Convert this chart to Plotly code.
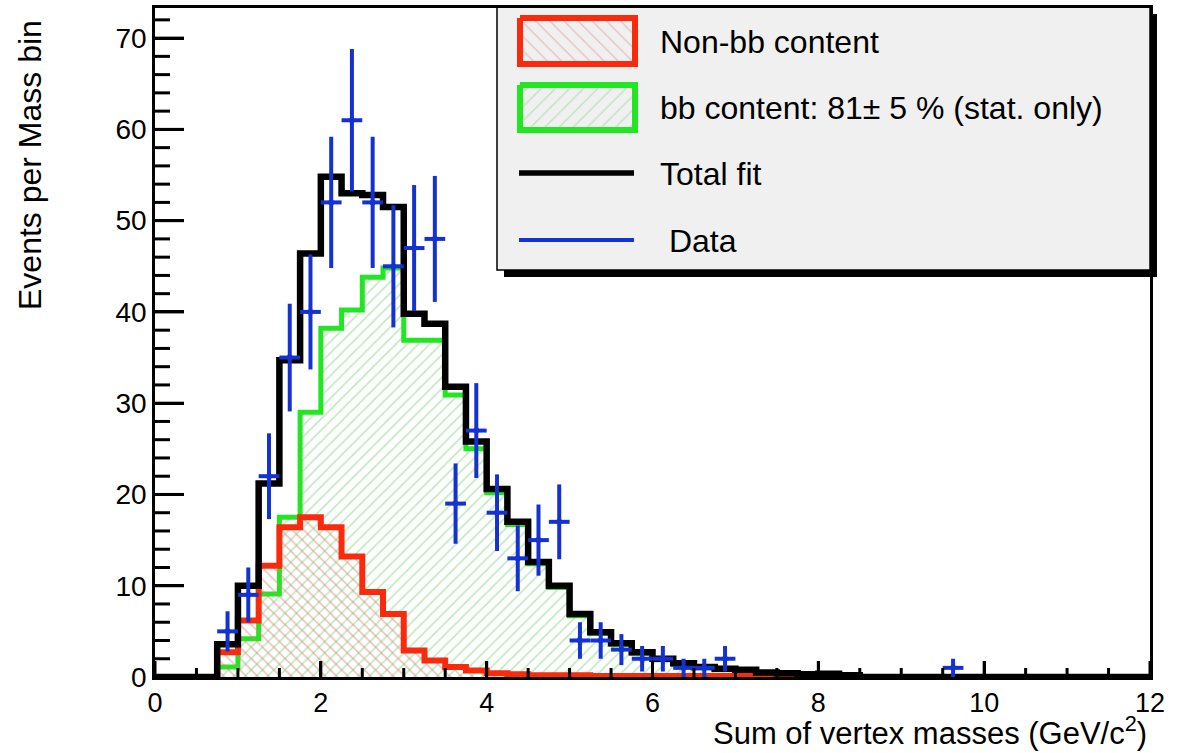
import numpy as np
import plotly.graph_objects as go

# ---------------- data ----------------
X_MIN, X_MAX = 0.0, 12.0
N_BINS = 48  # bin width 0.25 GeV/c^2

# Non-bb content (red), per bin from 0 to 12
non_bb = [0, 0, 0, 2.7, 6.2, 12.2, 16.4, 17.5, 16.4, 13.2, 9.3, 6.9,
          2.9, 1.8, 1.1, 0.7, 0.4, 0.3, 0.2, 0.2, 0.2, 0.1, 0.1, 0.1,
          0.1, 0.1, 0.1, 0.1, 0.1, 0, 0, 0, 0, 0, 0, 0,
          0, 0, 0, 0, 0, 0, 0, 0, 0, 0, 0, 0]

# bb content (green)
bb = [0, 0, 0, 1.1, 4.2, 9.1, 17.5, 29.0, 38.2, 40.2, 43.8, 44.8,
      36.9, 36.9, 30.9, 25.0, 20.2, 16.7, 12.4, 9.8, 6.7, 4.8, 3.6, 2.6,
      1.9, 1.4, 1.0, 0.8, 0.7, 0.4, 0.3, 0.25, 0.25, 0.15, 0, 0,
      0, 0, 0, 0, 0, 0, 0, 0, 0, 0, 0, 0]

# Total fit (black)
total_fit = [0, 0, 0, 3.6, 10.0, 21.2, 34.7, 46.4, 54.8, 53.0, 52.8, 51.5,
             39.8, 38.7, 31.8, 25.8, 20.6, 17.0, 12.6, 10.0, 6.9, 4.9, 3.7, 2.7,
             2.0, 1.5, 1.1, 0.9, 0.8, 0.5, 0.4, 0.3, 0.35, 0.2, 0, 0,
             0, 0, 0, 0, 0, 0, 0, 0, 0, 0, 0, 0]

# Data points (blue)
data_x = [0.875, 1.125, 1.375, 1.625, 1.875, 2.125, 2.375, 2.625, 2.875,
          3.125, 3.375, 3.625, 3.875, 4.125, 4.375, 4.625, 4.875, 5.125,
          5.375, 5.625, 5.875, 6.125, 6.375, 6.625, 6.875, 9.625]
data_y = [5, 9, 22, 35, 40, 52, 61, 52, 45, 47, 48, 19, 27, 18, 13, 15, 17,
          4, 4, 3, 2, 2, 1, 1, 2, 1]
data_err = [2.2, 3.0, 4.7, 5.9, 6.3, 7.2, 7.8, 7.2, 6.7, 6.9, 6.9, 4.4, 5.2,
            4.2, 3.6, 3.9, 4.1, 2.0, 2.0, 1.7, 1.4, 1.4, 1.0, 1.0, 1.4, 1.0]
data_xerr = 0.125

x_ticks = [0, 2, 4, 6, 8, 10, 12]
y_ticks = [0, 10, 20, 30, 40, 50, 60, 70]
x_minor_step = 0.5
y_minor_step = 2

legend_labels = ["Non-bb content", "bb content: 81\u00b1 5 % (stat. only)",
                 "Total fit", " Data"]

# ---------------- style ----------------
FONT = "Liberation Sans, Arial, Helvetica, sans-serif"
RED = "#fa2a0c"
GREEN = "#22e622"
BLACK = "#000000"
BLUE = "#1432d2"
W, H = 1178, 753
L, R, T, B = 155, 28, 8, 76
Y_TOP = 73.3
PW, PH = W - L - R, H - T - B

edges = np.linspace(X_MIN, X_MAX, N_BINS + 1)


def step(vals):
    return list(edges), list(vals) + [vals[-1]]


def pxx(px):
    return (px - L) / PW


def pxy(py):
    return (H - B - py) / PH


def dx(px):  # pixel -> data x
    return X_MIN + pxx(px) * (X_MAX - X_MIN)


def dy(py):  # pixel -> data y
    return pxy(py) * Y_TOP


fig = go.Figure()

sx, sy = step(bb)
fig.add_trace(go.Scatter(
    x=sx, y=sy, mode="lines", line=dict(color=GREEN, width=5, shape="hv"),
    fill="tozeroy", fillcolor="rgba(0,0,0,0)",
    fillpattern=dict(shape="/", fgcolor="#7fd27f", bgcolor="rgba(255,255,255,0)",
                     size=8, solidity=0.2),
    hoverinfo="skip", showlegend=False))

sx, sy = step(non_bb)
fig.add_trace(go.Scatter(
    x=sx, y=sy, mode="lines", line=dict(color=RED, width=6, shape="hv"),
    fill="tozeroy", fillcolor="rgba(0,0,0,0)",
    fillpattern=dict(shape="\\", fgcolor="#d8866f", bgcolor="rgba(255,255,255,0)",
                     size=8, solidity=0.2),
    hoverinfo="skip", showlegend=False))

sx, sy = step(total_fit)
fig.add_trace(go.Scatter(
    x=sx, y=sy, mode="lines", line=dict(color=BLACK, width=6.5, shape="hv"),
    hoverinfo="skip", showlegend=False))

fig.add_trace(go.Scatter(
    x=data_x, y=data_y, mode="markers",
    marker=dict(size=0, color=BLUE),
    error_y=dict(type="data", array=data_err, color=BLUE, thickness=4, width=0),
    error_x=dict(type="constant", value=data_xerr, color=BLUE, thickness=4, width=0),
    showlegend=False))

# ---------------- tick marks (inside, ROOT style), drawn as one line trace ----------------
x_minor = [float(v) for v in np.arange(X_MIN, X_MAX + 1e-9, x_minor_step) if v not in x_ticks]
y_minor = [float(v) for v in np.arange(0, Y_TOP, y_minor_step) if v not in y_ticks]
tx, ty = [], []
for v, ln in [(v, 16) for v in x_ticks] + [(v, 9) for v in x_minor]:
    tx += [v, v, None]
    ty += [0.0, dy(H - B - ln), None]
for v, ln in [(v, 29) for v in y_ticks] + [(v, 15) for v in y_minor]:
    tx += [X_MIN, dx(L + ln), None]
    ty += [v, v, None]
fig.add_trace(go.Scatter(x=tx, y=ty, mode="lines", line=dict(color="black", width=3),
                         connectgaps=False, hoverinfo="skip", showlegend=False))

# ---------------- legend ----------------
leg_x0, leg_x1, leg_y0, leg_y1 = 497, 1150, 7, 270
shadow = 7
fig.add_shape(type="rect", xref="paper", yref="paper",
              x0=pxx(leg_x0 + shadow), x1=pxx(leg_x1 + shadow),
              y0=pxy(leg_y0 + shadow), y1=pxy(leg_y1 + shadow),
              fillcolor="black", line=dict(width=0), layer="below")
fig.add_shape(type="rect", xref="paper", yref="paper",
              x0=pxx(leg_x0), x1=pxx(leg_x1), y0=pxy(leg_y0), y1=pxy(leg_y1),
              fillcolor="#f0f0f0", line=dict(color="black", width=1.5), layer="below")

sw_x0, sw_x1 = dx(520), dx(635)
for (ytop, ybot), col, shp, fg in [((18, 64), RED, "\\", "#dc9a94"),
                                   ((85, 130), GREEN, "/", "#94d494")]:
    fig.add_trace(go.Scatter(
        x=[sw_x0, sw_x1, sw_x1, sw_x0, sw_x0],
        y=[dy(ytop), dy(ytop), dy(ybot), dy(ybot), dy(ytop)],
        mode="lines", line=dict(color=col, width=6),
        fill="toself", fillcolor="rgba(0,0,0,0)",
        fillpattern=dict(shape=shp, fgcolor=fg, bgcolor="rgba(255,255,255,0)",
                         size=10, solidity=0.15),
        hoverinfo="skip", showlegend=False))
fig.add_trace(go.Scatter(
    x=[dx(519), dx(634)], y=[dy(173), dy(173)], mode="lines",
    line=dict(color=BLACK, width=5.5), hoverinfo="skip", showlegend=False))
fig.add_trace(go.Scatter(
    x=[dx(519), dx(634)], y=[dy(240), dy(240)], mode="lines",
    line=dict(color=BLUE, width=4), hoverinfo="skip", showlegend=False))

for label, ypx in zip(legend_labels, [42, 108, 174, 241]):
    fig.add_annotation(text=label, xref="paper", yref="paper",
                       x=pxx(658), y=pxy(ypx), xanchor="left", yanchor="middle",
                       showarrow=False, font=dict(family=FONT, size=32, color="black"))

# ---------------- axis titles ----------------
fig.add_annotation(text="Sum of vertex masses (GeV/c<sup>2</sup>)", xref="paper", yref="paper",
                   x=pxx(1149), y=pxy(731), xanchor="right", yanchor="middle",
                   showarrow=False, font=dict(family=FONT, size=31, color="black"))
fig.add_annotation(text="Events per Mass bin", xref="paper", yref="paper",
                   x=pxx(30), y=pxy(165), xanchor="center", yanchor="middle",
                   textangle=-90, showarrow=False,
                   font=dict(family=FONT, size=32, color="black"))

fig.update_layout(
    width=W, height=H,
    margin=dict(l=L, r=R, t=T, b=B, autoexpand=False),
    paper_bgcolor="white", plot_bgcolor="white",
    showlegend=False,
    xaxis=dict(range=[X_MIN, X_MAX], tickmode="array", tickvals=x_ticks,
               ticks="inside", ticklen=16, tickwidth=3, tickcolor="black",
               showline=True, linewidth=2.5, linecolor="black", mirror=True,
               showgrid=False, zeroline=False,
               tickfont=dict(family=FONT, size=27, color="black")),
    yaxis=dict(range=[0, Y_TOP], tickmode="array", tickvals=y_ticks,
               ticks="inside", ticklen=29, tickwidth=3, tickcolor="black",
               showline=True, linewidth=2.5, linecolor="black", mirror=True,
               showgrid=False, zeroline=False,
               tickfont=dict(family=FONT, size=28, color="black")),
)

fig.write_html("out.html")
